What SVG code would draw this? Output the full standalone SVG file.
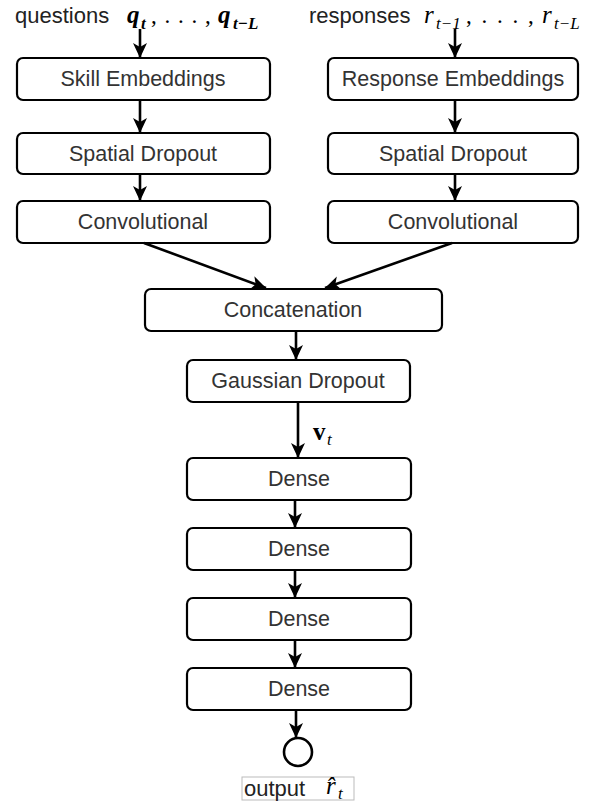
<svg xmlns="http://www.w3.org/2000/svg" width="607" height="802" viewBox="0 0 607 802">
<style>
.box{fill:#fff;stroke:#000;stroke-width:2.2}
.lbl{font-family:"Liberation Sans",Arial,sans-serif;font-size:21.5px;fill:#333;text-anchor:middle}
.top{font-family:"Liberation Sans",Arial,sans-serif;font-size:22px;fill:#222}
.m{font-family:"Liberation Serif","Times New Roman",serif;font-style:italic;fill:#000;font-size:25px}
.s{font-family:"Liberation Serif","Times New Roman",serif;font-style:italic;fill:#000;font-size:17px}
.p{font-family:"Liberation Serif","Times New Roman",serif;fill:#000;font-size:23px}
.c{stroke:#000;stroke-width:2.6;fill:none;marker-end:url(#ah)}
</style>
<defs>
<marker id="ah" markerUnits="userSpaceOnUse" markerWidth="16" markerHeight="16" viewBox="0 0 16 16" refX="15" refY="8" orient="auto">
<path d="M0,1 L15,8 L0,15 L4,8 z" fill="#000"/>
</marker>
</defs>

<g id="input-questions">
<text class="top" x="15" y="23">questions</text>
<text class="m" x="127" y="23" font-weight="bold">q</text>
<text class="s" x="141" y="29" font-weight="bold">t</text>
<text class="p" x="151" y="23" letter-spacing="1">, . . . ,</text>
<text class="m" x="218" y="23" font-weight="bold">q</text>
<text class="s" x="233" y="29" font-weight="bold">t−L</text>
</g>
<g id="input-responses">
<text class="top" x="309" y="23">responses</text>
<text class="m" x="424" y="23">r</text>
<text class="s" x="436" y="29">t−1</text>
<text class="p" x="466" y="23" letter-spacing="2">, . . . ,</text>
<text class="m" x="542" y="23">r</text>
<text class="s" x="554" y="29">t−L</text>
</g>

<g id="skill-embeddings"><rect class="box" x="17" y="58" width="253" height="42" rx="6"/><text class="lbl" x="143" y="86">Skill Embeddings</text></g>
<g id="response-embeddings"><rect class="box" x="328" y="58" width="250" height="42" rx="6"/><text class="lbl" x="453" y="86">Response Embeddings</text></g>
<g id="spatial-dropout-left"><rect class="box" x="17" y="133" width="253" height="41" rx="6"/><text class="lbl" x="143" y="161">Spatial Dropout</text></g>
<g id="spatial-dropout-right"><rect class="box" x="328" y="133" width="250" height="41" rx="6"/><text class="lbl" x="453" y="161">Spatial Dropout</text></g>
<g id="conv-left"><rect class="box" x="17" y="201" width="253" height="42" rx="6"/><text class="lbl" x="143" y="229">Convolutional</text></g>
<g id="conv-right"><rect class="box" x="328" y="201" width="250" height="42" rx="6"/><text class="lbl" x="453" y="229">Convolutional</text></g>
<g id="concatenation"><rect class="box" x="145" y="289" width="297" height="42" rx="6"/><text class="lbl" x="293" y="317">Concatenation</text></g>
<g id="gaussian-dropout"><rect class="box" x="187" y="360" width="223" height="42" rx="6"/><text class="lbl" x="298" y="388">Gaussian Dropout</text></g>
<g id="dense1"><rect class="box" x="187" y="458" width="224" height="42" rx="6"/><text class="lbl" x="299" y="486">Dense</text></g>
<g id="dense2"><rect class="box" x="187" y="528" width="224" height="42" rx="6"/><text class="lbl" x="299" y="556">Dense</text></g>
<g id="dense3"><rect class="box" x="187" y="598" width="224" height="42" rx="6"/><text class="lbl" x="299" y="626">Dense</text></g>
<g id="dense4"><rect class="box" x="187" y="668" width="224" height="42" rx="6"/><text class="lbl" x="299" y="696">Dense</text></g>
<g id="output-node"><circle cx="298" cy="752" r="14" fill="#fff" stroke="#000" stroke-width="2.6"/></g>
<g id="output-label">
<rect x="242" y="777" width="112" height="23" fill="#fff" stroke="#bbb" stroke-width="1"/>
<text class="top" x="244" y="796" font-size="21.5" fill="#333">output</text>
<text class="m" x="326" y="794" font-size="24">r̂</text>
<text class="s" x="338" y="799" font-size="16">t</text>
</g>

<g id="connectors">
<line class="c" x1="140" y1="29" x2="140" y2="58"/>
<line class="c" x1="140" y1="100" x2="140" y2="133"/>
<line class="c" x1="140" y1="174" x2="140" y2="201"/>
<line class="c" x1="455" y1="29" x2="455" y2="58"/>
<line class="c" x1="455" y1="100" x2="455" y2="133"/>
<line class="c" x1="455" y1="174" x2="455" y2="201"/>
<line class="c" x1="144" y1="243" x2="266" y2="288"/>
<line class="c" x1="452" y1="243" x2="325" y2="288"/>
<line class="c" x1="296" y1="331" x2="296" y2="360"/>
<line class="c" x1="298" y1="402" x2="298" y2="458"/>
<line class="c" x1="295" y1="500" x2="295" y2="528"/>
<line class="c" x1="295" y1="570" x2="295" y2="598"/>
<line class="c" x1="295" y1="640" x2="295" y2="668"/>
<line class="c" x1="296" y1="710" x2="296" y2="738"/>
<text x="313" y="440" font-family="Liberation Serif,serif" font-size="25" font-weight="bold">v</text>
<text x="327" y="445" font-family="Liberation Serif,serif" font-size="17" font-style="italic">t</text>
</g>
</svg>
